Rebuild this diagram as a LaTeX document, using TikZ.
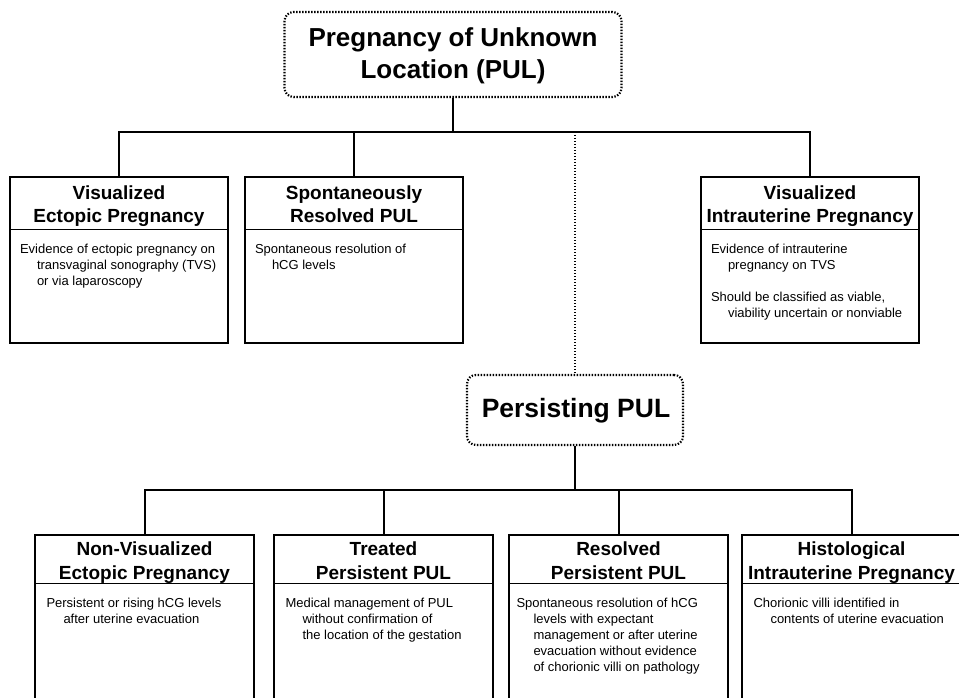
\documentclass[tikz,border=0pt]{standalone}
\usepackage{fontspec}
\setmainfont{Liberation Sans}
\tikzset{
  hdr/.style={minimum width=218pt, inner sep=0pt, anchor=north},
  hdrtxt/.style={anchor=base, inner sep=0pt, font=\fontsize{19}{23.5}\selectfont\bfseries},
  bodyarea/.style={minimum width=218pt, inner sep=0pt, anchor=north},
  outer/.style={line width=2pt},
  divider/.style={line width=1.3pt},
  conn/.style={line width=2pt},
  dotline/.style={line width=2.2pt, dash pattern=on 1.4pt off 1.6pt},
  dotbox/.style={draw, line width=2.2pt, dash pattern=on 1.4pt off 1.6pt, rounded corners=9pt,
    inner sep=0pt},
  bigtxt/.style={anchor=base, inner sep=0pt, font=\fontsize{26}{32.5}\selectfont\bfseries},
  bodytxt/.style={anchor=base west, inner sep=0pt, font=\fontsize{13}{16}\selectfont}
}
\newcommand\hang{\hangindent=17pt\hangafter=1\relax}
\def\hdroff{22.5pt}
% name, centre x, top y, header height, body height, title, body, text x offset
\newcommand\mkbox[8]{%
  \node[hdr, minimum height=#4pt] (#1h) at (#2,#3) {};
  \node[hdrtxt] (#1l) at ([yshift=-\hdroff]#1h.north) {\parbox[t]{218pt}{\centering #6}};
  \node[bodyarea, minimum height=#5pt] (#1b) at (#1h.south) {};
  \draw[outer] (#1h.north west) rectangle (#1b.south east);
  \draw[divider] (#1h.south west) -- (#1h.south east);
  \node[bodytxt] (#1t) at ([xshift=#8pt,yshift=-24pt]#1h.south west)
    {\parbox[t]{300pt}{\hang #7\par}};
}
\begin{document}
\begin{tikzpicture}[x=1pt,y=-1pt]
\useasboundingbox[fill=white] (0,0) rectangle (959,698);
\clip (0,0) rectangle (959,698);

% root and middle nodes
\node[dotbox, minimum width=337pt, minimum height=85pt] (root) at (453,54.5) {};
\node[bigtxt] (rootl) at (453,46.5) {\parbox[t]{330pt}{\centering Pregnancy of Unknown\\Location (PUL)}};
\node[dotbox, minimum width=216pt, minimum height=70pt] (pers) at (575,410) {};
\node[bigtxt, font=\fontsize{26.5}{32}\selectfont\bfseries] (persl) at (576,417.5) {Persisting PUL};

% top row
\mkbox{vep}{119}{177}{52}{113}{Visualized\\Ectopic Pregnancy}
  {Evidence of ectopic pregnancy on\newline transvaginal sonography (TVS)\newline or via laparoscopy}{10}
\mkbox{spr}{354}{177}{52}{113}{Spontaneously\\Resolved PUL}
  {Spontaneous resolution of\newline hCG levels}{10}
\mkbox{viu}{810}{177}{52}{113}{Visualized\\Intrauterine Pregnancy}
  {Evidence of intrauterine\newline pregnancy on TVS\par\vspace{16pt}\hang
   Should be classified as viable,\newline viability uncertain or nonviable}{10}

% bottom row
\def\hdroff{20.5pt}
\mkbox{nve}{144.5}{535}{48}{125}{Non-Visualized\\Ectopic Pregnancy}
  {Persistent or rising hCG levels\newline after uterine evacuation}{11}
\mkbox{tpu}{383.5}{535}{48}{125}{Treated\\Persistent PUL}
  {Medical management of PUL\newline without confirmation of\newline the location of the gestation}{11}
\mkbox{rpu}{618.5}{535}{48}{125}{Resolved\\Persistent PUL}
  {Spontaneous resolution of hCG\newline levels with expectant\newline management or after uterine\newline evacuation without evidence\newline of chorionic villi on pathology}{7}
\mkbox{hiu}{851.5}{535}{48}{125}{Histological\\Intrauterine Pregnancy}
  {Chorionic villi identified in\newline contents of uterine evacuation}{11}

% connectors
\coordinate (j1) at (453,132);
\coordinate (j2) at (575,132);
\coordinate (j3) at (575,490);
\draw[conn] (root.south) -- (j1);
\draw[conn] (veph.north) |- (j1) -| (viuh.north);
\draw[conn] (j1) -| (sprh.north);
\draw[dotline] (j2) -- (pers.north);
\draw[conn] (pers.south) -- (j3);
\draw[conn] (nveh.north) |- (j3) -| (hiuh.north);
\draw[conn] (j3) -| (tpuh.north);
\draw[conn] (j3) -| (rpuh.north);
\end{tikzpicture}
\end{document}
